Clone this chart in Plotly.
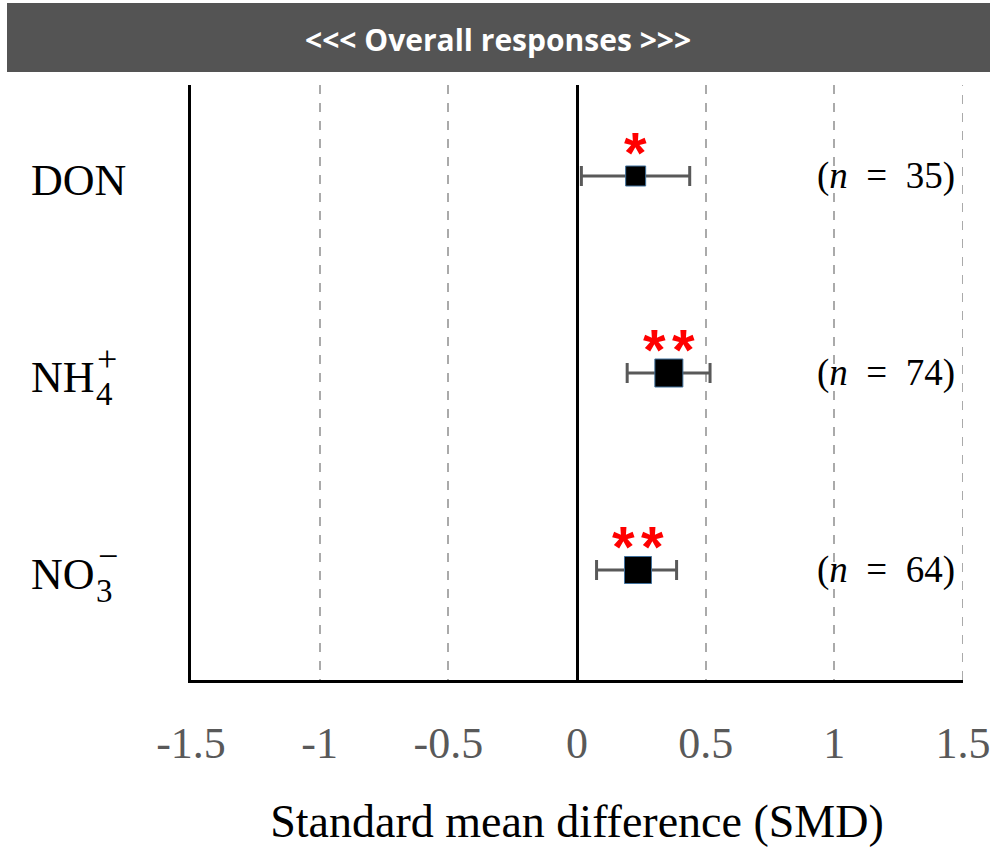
import plotly.graph_objects as go

# ---- data ----
categories = ["DON", "NH4+", "NO3-"]
row_pos = [3, 2, 1]
smd_mean = [0.228, 0.357, 0.237]
ci_low = [0.017, 0.195, 0.076]
ci_high = [0.438, 0.517, 0.387]
n_labels = ["35", "74", "64"]
star_counts = [1, 2, 2]
marker_sizes = [20, 28, 27]
tick_vals = [-1.5, -1, -0.5, 0, 0.5, 1, 1.5]
tick_text = ["-1.5", "-1", "-0.5", "0", "0.5", "1", "1.5"]

W, H = 996, 847
ML, MR, MT, MB = 191, 33, 85, 167
PW = W - ML - MR
PH = H - MT - MB

def px_x(px):
    return (px - ML) / PW

def px_y(py):
    return 1 - (py - MT) / PH

err_plus = [h - m for h, m in zip(ci_high, smd_mean)]
err_minus = [m - l for m, l in zip(smd_mean, ci_low)]

fig = go.Figure()
# grid line at the right edge of the axis range (plotly omits edge gridlines)
fig.add_vline(x=tick_vals[-1], line=dict(color="#aaaaaa", width=2, dash="dash"), layer="below")
# error bars (invisible markers)
fig.add_trace(go.Scatter(
    x=smd_mean, y=row_pos, mode="markers",
    marker=dict(size=1, color="rgba(0,0,0,0)"),
    error_x=dict(type="data", symmetric=False, array=err_plus, arrayminus=err_minus,
                 color="#595959", thickness=3, width=10),
    showlegend=False, hoverinfo="skip", cliponaxis=False,
))
# squares on top
fig.add_trace(go.Scatter(
    x=smd_mean, y=row_pos, mode="markers",
    marker=dict(symbol="square", size=marker_sizes, color="#000000", opacity=1,
                line=dict(color="#41719c", width=1)),
    showlegend=False, hoverinfo="skip", cliponaxis=False,
))

serif = "Liberation Serif"
annotations = []
# significance stars
for x, y, c in zip(smd_mean, row_pos, star_counts):
    offs = [0] if c == 1 else [-14.5, 14.5]
    for o in offs:
        annotations.append(dict(x=x, y=y, xref="x", yref="y", text="<b>*</b>", showarrow=False,
                                xanchor="center", yanchor="middle", xshift=o, yshift=24,
                                font=dict(family="Liberation Sans", size=58, color="#ff0000")))
# n labels
for y, n in zip(row_pos, n_labels):
    annotations.append(dict(x=px_x(886), y=y, xref="paper", yref="y",
                            xanchor="center", yanchor="middle",
                            text="(<i>n</i>\u2002=\u2002" + n + ")", showarrow=False,
                            font=dict(family=serif, size=37, color="black")))
# category labels
lab_x = px_x(29)
def lab(x, y, text, size, ysh):
    annotations.append(dict(x=x, y=y, xref="paper", yref="y", xanchor="left", yanchor="middle",
                            text=text, showarrow=False, yshift=ysh,
                            font=dict(family=serif, size=size, color="black")))
lab(lab_x, row_pos[0], "DON", 44, -4)
lab(lab_x, row_pos[1], "NH", 44, -4)
lab(px_x(94), row_pos[1], "4", 33, -21)
lab(px_x(95), row_pos[1], "+", 36, 14)
lab(lab_x, row_pos[2], "NO", 44, -4)
lab(px_x(94), row_pos[2], "3", 33, -21)
lab(px_x(96), row_pos[2], "\u2212", 36, 14)
# header text
annotations.append(dict(x=px_x(498), y=px_y(39), xref="paper", yref="paper",
                        xanchor="center", yanchor="middle",
                        text="<b>&lt;&lt;&lt; Overall responses &gt;&gt;&gt;</b>", showarrow=False,
                        font=dict(family="Open Sans", size=30, color="white")))

shapes = [dict(type="rect", xref="paper", yref="paper",
               x0=px_x(7), x1=px_x(990), y0=px_y(72), y1=px_y(3),
               fillcolor="#545454", line=dict(width=0), layer="below")]

fig.update_layout(
    width=W, height=H,
    margin=dict(l=ML, r=MR, t=MT, b=MB, autoexpand=False),
    paper_bgcolor="white", plot_bgcolor="white",
    annotations=annotations, shapes=list(fig.layout.shapes) + shapes,
    xaxis=dict(range=[-1.5, 1.5], tickvals=tick_vals, ticktext=tick_text,
               tickfont=dict(family=serif, size=44, color="#595959"),
               showline=True, linecolor="black", linewidth=3,
               showgrid=True, gridcolor="#aaaaaa", gridwidth=2, griddash="dash",
               zeroline=True, zerolinecolor="black", zerolinewidth=3,
               ticks="", ticklabelstandoff=22,
               title=dict(text="Standard mean difference (SMD)", standoff=46,
                          font=dict(family=serif, size=46, color="black"))),
    yaxis=dict(range=[1 - 110 / 197, 1 + 485 / 197], showticklabels=False, showgrid=False,
               zeroline=False, showline=True, linecolor="black", linewidth=3, ticks=""),
)
fig.write_html("out.html")
